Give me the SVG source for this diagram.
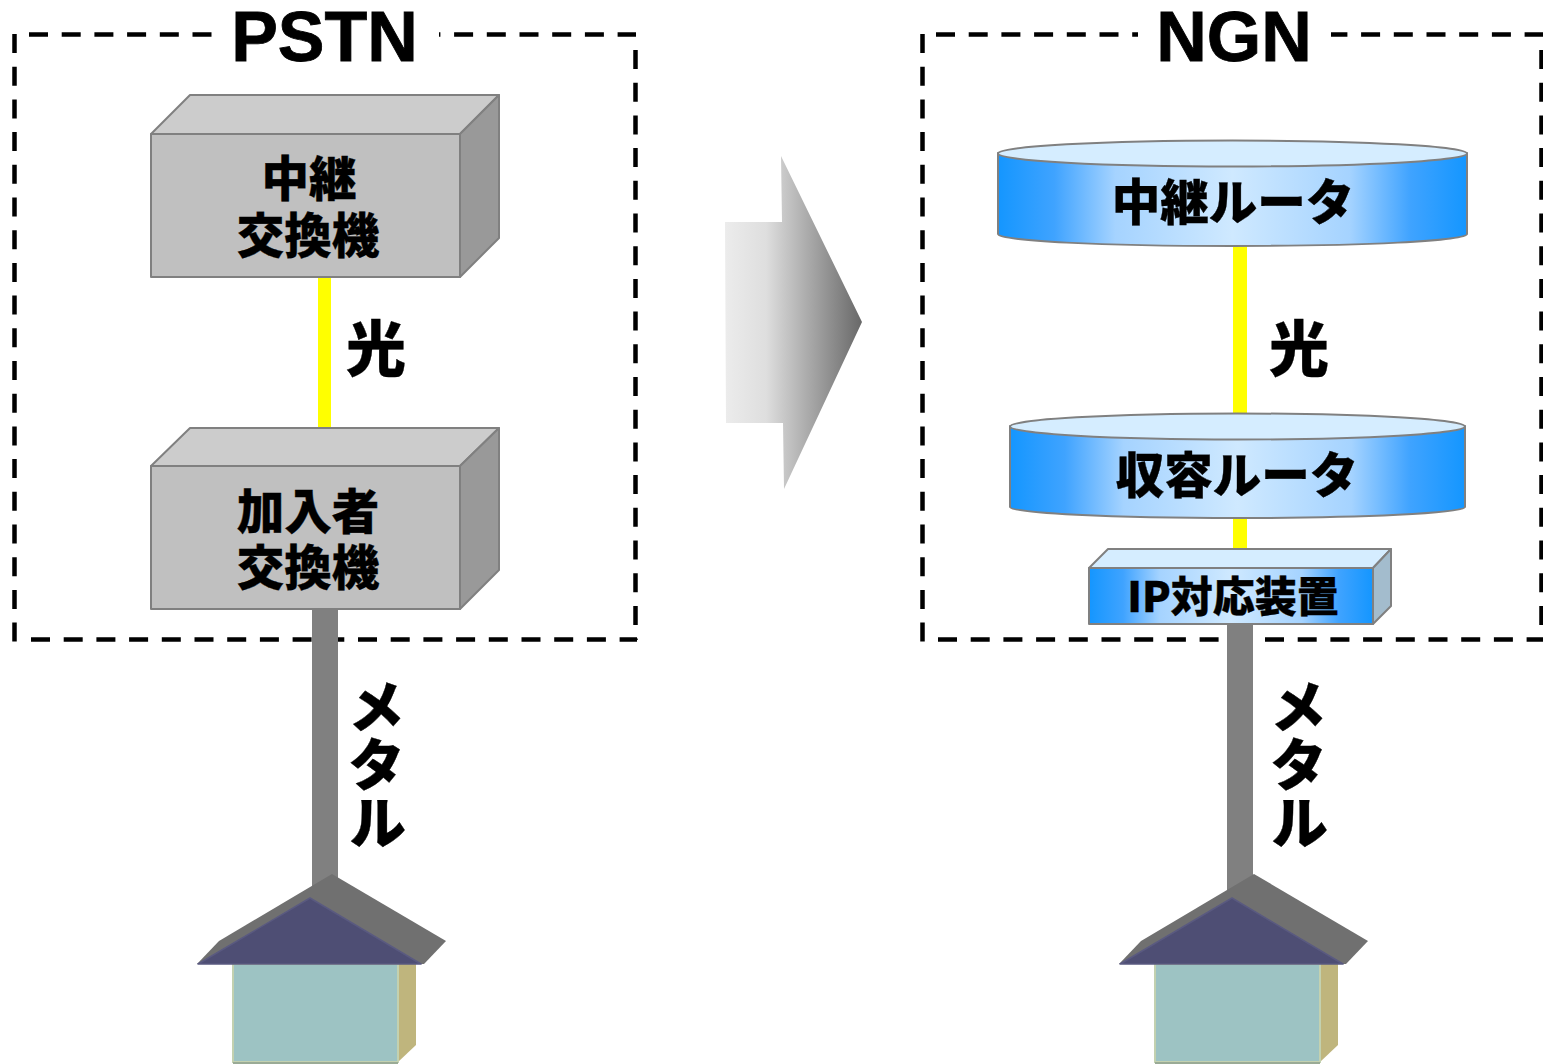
<svg xmlns="http://www.w3.org/2000/svg" width="1543" height="1064" viewBox="0 0 1543 1064">
<style>
.t{font-family:"Noto Sans CJK JP","Noto Sans",sans-serif;font-weight:900;fill:#000;stroke:#000;stroke-width:.35;text-anchor:middle}
.v{writing-mode:vertical-rl;text-anchor:start;font-size:58px}
.h{font-family:"Liberation Sans",Arial,sans-serif;font-weight:700;font-size:70px;fill:#000;stroke:#000;stroke-width:.8;text-anchor:middle}
.f{fill:none;stroke:#000;stroke-width:4.5;stroke-dasharray:19 13.7}
.e{stroke:#808080;stroke-width:2;stroke-linejoin:round}
.gf{fill:#c0c0c0}.gt{fill:#cccccc}.gs{fill:#999999}
.bt{fill:#d5edff}.bs{fill:#a3bccd}
</style>
<defs>
<linearGradient id="blue" x1="0" x2="1" y1="0" y2="0"><stop offset="0" stop-color="#1496ff"/><stop offset=".12" stop-color="#3fa3ff"/><stop offset=".25" stop-color="#a5d3ff"/><stop offset=".5" stop-color="#cfe9ff"/><stop offset=".75" stop-color="#a5d3ff"/><stop offset=".88" stop-color="#3fa3ff"/><stop offset="1" stop-color="#1496ff"/></linearGradient>
<linearGradient id="arrow" gradientUnits="userSpaceOnUse" x1="725" x2="862" y1="0" y2="0"><stop offset="0" stop-color="#ececec"/><stop offset=".3" stop-color="#dedede"/><stop offset="1" stop-color="#686868"/></linearGradient>
<g id="house">
<path fill="#bfb57d" d="M398 964L416 964L416 1045L398 1062Z"/>
<path fill="#9dc3c3" stroke="#c3d1b0" stroke-width="2" d="M233 964H398V1062H233Z"/>
<path fill="none" stroke="#9aab96" stroke-width="2" d="M233 1063H398"/>
<path fill="#707070" d="M197 964L219 941L332 874L446 941L424 964Z"/>
<path fill="#4e4e74" stroke="#5a5a80" stroke-width="1.500" stroke-linejoin="round" d="M198 964L310 898L421 964Z"/>
</g>
</defs>
<g id="pstn-frame">
<path class="f" d="M14.500 34V642"/>
<path class="f" d="M29 34.500H636"/>
<path class="f" d="M635.500 50V640"/>
<path class="f" d="M31 639.500H637"/>
</g>
<g id="ngn-frame">
<path class="f" d="M922.500 34V642"/>
<path class="f" d="M936 34.500H1543"/>
<path class="f" d="M1541.500 50V640"/>
<path class="f" d="M938 639.500H1543"/>
</g>
<g id="connectors">
<rect x="318" y="277" width="13" height="152" fill="#ff0"/>
<rect x="1233" y="245" width="14" height="170" fill="#ff0"/>
<rect x="1233" y="518" width="14" height="32" fill="#ff0"/>
<rect x="312" y="608" width="26" height="285" fill="#808080"/>
<rect x="1227" y="624" width="26" height="269" fill="#808080"/>
</g>
<g id="pstn-title">
<rect x="212" y="5" width="227" height="60" fill="#fff"/>
<text class="h" x="324.500" y="61">PSTN</text>
</g>
<g id="ngn-title">
<rect x="1138" y="5" width="193" height="60" fill="#fff"/>
<text class="h" x="1234" y="61">NGN</text>
</g>
<g id="trunk-switch">
<path class="e gt" d="M151 134L190 95H499L460 134Z"/>
<path class="e gs" d="M460 134L499 95V238L460 277Z"/>
<rect class="e gf" x="151" y="134" width="309" height="143"/>
<text class="t" font-size="47.500"><tspan x="309" y="196">中継</tspan><tspan x="308" y="253">交換機</tspan></text>
</g>
<g id="subscriber-switch">
<path class="e gt" d="M151 466L190 428H499L460 466Z"/>
<path class="e gs" d="M460 466L499 428V570L460 609Z"/>
<rect class="e gf" x="151" y="466" width="309" height="143"/>
<text class="t" font-size="47.500"><tspan x="308" y="529">加入者</tspan><tspan x="308" y="585">交換機</tspan></text>
</g>
<g id="label-hikari-l"><text class="t" font-size="60" x="376" y="371">光</text></g>
<g id="label-metal-l"><text class="t v" x="377" y="677">メタル</text></g>
<g id="arrow-shape"><path fill="url(#arrow)" d="M725 222L782 222L781 156L862 322L784 489L783 423L726 423Z"/></g>
<g id="core-router">
<path class="e" fill="url(#blue)" d="M998 153V234C998 241 1103 246 1232 246S1467 241 1467 234V153Z"/>
<ellipse class="e bt" cx="1232.500" cy="153.500" rx="234.500" ry="13"/>
<text class="t" font-size="48.500" x="1233" y="220">中継ルータ</text>
</g>
<g id="edge-router">
<path class="e" fill="url(#blue)" d="M1010 426V507C1010 513 1112 518 1237 518S1465 513 1465 507V426Z"/>
<ellipse class="e bt" cx="1237.500" cy="426.500" rx="227.500" ry="13"/>
<text class="t" font-size="48.500" x="1237" y="493">収容ルータ</text>
</g>
<g id="ip-device">
<path class="e bt" d="M1089 568L1108 549H1391L1373 568Z"/>
<path class="e bs" d="M1373 568L1391 549V606L1373 624Z"/>
<rect class="e" x="1089" y="568" width="284" height="56" fill="url(#blue)"/>
<text class="t" font-size="42" x="1233" y="612">IP対応装置</text>
</g>
<g id="label-hikari-r"><text class="t" font-size="60" x="1299" y="371">光</text></g>
<g id="label-metal-r"><text class="t v" x="1299" y="677">メタル</text></g>
<g id="house-l"><use href="#house"/></g>
<g id="house-r"><use href="#house" x="922"/></g>
</svg>
